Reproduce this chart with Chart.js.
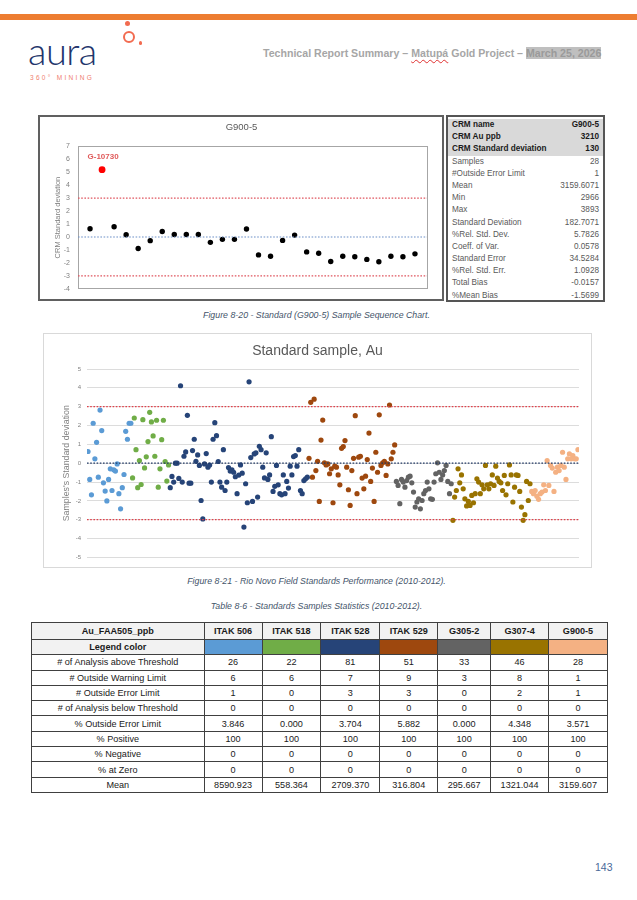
<!DOCTYPE html>
<html><head><meta charset="utf-8">
<script src="https://cdn.jsdelivr.net/npm/chart.js@4.4.1/dist/chart.umd.min.js"></script>
<style>
html,body{margin:0;padding:0;background:#fff;}
body{width:637px;height:900px;position:relative;overflow:hidden;font-family:"Liberation Sans",Arial,sans-serif;}
.abs{position:absolute;}
#bar{left:0;top:14px;width:637px;height:6px;background:#ED7D31;}
#logo{left:28px;top:31px;font:300 38px Lato,sans-serif;color:#22356B;line-height:38px;letter-spacing:-0.5px;}
#ring{left:123px;top:31px;width:12px;height:12px;border:2px solid #F26B50;border-radius:50%;box-sizing:border-box;}
#dot1{left:124.5px;top:21px;width:5px;height:5px;border-radius:50%;background:#F26B50;}
#dot2{left:138.5px;top:41px;width:3.5px;height:3.5px;border-radius:50%;background:#F26B50;}
#mining{left:30px;top:74px;font-size:6.5px;letter-spacing:2.3px;color:#F08070;}
#head{left:263px;top:47px;font-weight:bold;font-size:10.6px;color:#A6A6A6;white-space:nowrap;}
#head .wavy{text-decoration:underline wavy #E03030;text-decoration-thickness:1px;text-underline-offset:2px;}
#head .hl{background:#BFBFBF;color:#9a9a9a;}
#box1{left:38px;top:115px;width:406px;height:186px;border:2px solid #606060;box-sizing:border-box;}
#crm{left:446px;top:115px;width:159px;height:187px;border:2px solid #555;box-sizing:border-box;padding-top:2px;}
.crow{display:flex;justify-content:space-between;height:12.2px;line-height:12.2px;font-size:8.2px;color:#595959;padding:0 4px 0 4px;}
.crow.g{background:#D9D9D9;color:#1a1a1a;font-weight:bold;}
#box2{left:43px;top:333px;width:549px;height:235px;border:1px solid #D9D9D9;box-sizing:border-box;}
.cap{width:637px;left:-2px;text-align:center;font-style:italic;font-size:8.8px;color:#44546A;}
#stats{left:31px;top:622px;border-collapse:collapse;font-size:9.1px;color:#1a1a1a;}
#stats td{border:1px solid #404040;text-align:center;padding:0;height:14.3px;line-height:14px;}
#stats tr.h td{font-weight:bold;background:#F2F2F2;height:16px;}
#stats td.lg{font-weight:bold;background:#F2F2F2;}
#pg{left:595px;top:861px;font-size:10.5px;color:#4A6A9A;}
</style></head><body>
<div class="abs" id="bar"></div>
<div class="abs" id="logo">aura</div>
<div class="abs" id="ring"></div>
<div class="abs" id="dot1"></div>
<div class="abs" id="dot2"></div>
<div class="abs" id="mining">360° MINING</div>
<div class="abs" id="head">Technical Report Summary – <span class="wavy">Matupá</span> Gold Project – <span class="hl">March 25, 2026</span></div>

<div class="abs" id="box1"></div>
<div class="abs" style="left:39px;top:116px;width:405px;height:185px;"><canvas id="c1" width="405" height="185"></canvas></div>
<div class="abs" id="crm"></div>
<div class="abs cap" style="top:310px;">Figure 8-20 - Standard (G900-5) Sample Sequence Chart.</div>

<div class="abs" id="box2"></div>
<div class="abs" style="left:44px;top:334px;width:547px;height:233px;"><canvas id="c2" width="547" height="233"></canvas></div>
<div class="abs cap" style="top:576px;">Figure 8-21 - Rio Novo Field Standards Performance (2010-2012).</div>
<div class="abs cap" style="top:601px;">Table 8-6 - Standards Samples Statistics (2010-2012).</div>
<table class="abs" id="stats"></table>
<div class="abs" id="pg">143</div>

<script>
// ---------- Chart 1 data (G900-5 sample sequence) ----------
const g900Title = 'G900-5';
const g900Values = [0.64, 5.2, 0.79, 0.18, -0.89, -0.28, 0.43, 0.2, 0.2, 0.2, -0.41, -0.18, -0.18, 0.62,
  -1.38, -1.48, -0.26, 0.15, -1.15, -1.25, -1.89, -1.48, -1.53, -1.73, -1.91, -1.48, -1.53, -1.3];
const g900Outlier = 'G-10730';
const chart1Ticks = [7, 6, 5, 4, 3, 2, 1, 0, -1, -2, -3, -4];
const errorLimit = 3;

// ---------- CRM summary table ----------
const crmLabels = ['CRM name', 'CRM Au ppb', 'CRM Standard deviation', 'Samples', '#Outside Error Limit', 'Mean', 'Min', 'Max',
  'Standard Deviation', '%Rel. Std. Dev.', 'Coeff. of Var.', 'Standard Error', '%Rel. Std. Err.', 'Total Bias', '%Mean Bias'];
const crmValues = ['G900-5', '3210', '130', '28', '1', '3159.6071', '2966', '3893', '182.7071', '5.7826', '0.0578',
  '34.5284', '1.0928', '-0.0157', '-1.5699'];

// ---------- Chart 2 data (standard sample, Au) ----------
const seriesNames = ['ITAK 506', 'ITAK 518', 'ITAK 528', 'ITAK 529', 'G305-2', 'G307-4', 'G900-5'];
const seriesColors = ['#5B9BD5', '#70AD47', '#264478', '#9E480E', '#636363', '#997300', '#F4B183'];
const itak506 = [0.62, -0.86, -1.68, 2.12, 0.23, 1.11, -0.74, 2.82, 1.73, -1.04, -1.48, -2.0, -0.86, -0.3, -1.45,
  -0.35, -0.42, -0.04, -1.62, -2.42, -1.3, -0.6, 1.69, 1.27, 2.12, 2.12];
const itak518 = [-0.78, 2.40, 0.72, -1.3, 0.14, -1.13, 2.31, -0.25, 0.34, 1.15, 2.7, 2.19, 1.45, 0.37, 2.28, -1.27,
  -0.3, 1.25, 2.28, 0.09, -0.95, -0.09];
const itak528 = [-1.3, -0.7, -1.0, 0, 0, -0.81, 4.11, -1.0, 0.37, 0.6, 2.54, -1.06, -1.06, 0.67, 1.27, 0.1, 0.44,
  -0.12, -1.98, -2.96, -0.04, 0.51, -0.21, -0.1, -1.0, 1.27, 2.15, 1.46, 0.09, -1.0, -1.27, 0.72, -1.45, -1.0, -0.23,
  -0.42, -0.35, -0.48, -0.72, -1.62, -0.63, -0.09, -0.53, -3.39, -1.09, -2.1, 4.32, 0.3, -2.03, 0.49,
  0.55, -1.8, 0.9, 0.72, -0.21, -0.78, 0.55, -0.86, -0.62, 1.41, -1.5, -1.23, -0.12, -1.15, -1.62, -1.68, -0.62,
  -1.62, -0.97, -1.32, -0.16, -0.62, 0.35, 0.41, -0.16, 0.72, -1.45, -1.62, -0.92, -0.83, -0.74];
const itak529 = [0.26, 3.23, -0.74, 3.4, -0.39, 0.1, -2.03, 1.23, 2.29, 0.02, -0.09, -0.04, -0.56, -0.3, -2.1,
  -0.16, -0.21, -0.62, -1.15, 0.79, 0.88, 1.2, -0.21, -1.41, -2.24, -0.39, 0.26, 2.52, -1.62, 0.32, 0.37, -0.79,
  -1.36, -0.69, 0.19, 1.6, -0.97, -0.26, -2.03, 0.58, -0.48, 2.57, -0.12, 0.02, 0.1, -0.65, -0.04, 3.09, 0.23,
  0.58, 0.97];
const g3052 = [-0.97, -1.18, -2.15, -0.86, -1.0, -1.27, -0.92, -0.74, -0.69, -1.04, -1.53, -2.33, -2.06, -1.89,
  -2.42, -1.98, -1.62, -1.45, -1.0, -1.36, -1.89, -1.92, -1.0, -0.56, 0.02, -0.48, -0.86, -0.62, -0.39, -0.12,
  -0.97, -1.62, -1.09];
const g3074 = [-3.03, -1.8, -1.45, -0.3, -1.04, -0.62, -1.36, -1.89, -2.27, -2.03, -2.24, -1.71, -2.1, -1.62,
  -0.83, -1.0, -1.62, -1.15, -1.36, -0.12, -1.15, -1.36, -1.09, -0.62, -1.18, -0.16, -0.79, -0.97, -1.04, -1.45,
  -0.65, -1.68, -1.09, -0.09, -0.62, -2.06, -1.27, -0.62, -0.65, -1.5, -2.33, -3.03, -2.73, -0.97, -1.98, -1.09];
const g9005 = [-1.5, -1.62, -1.45, -1.75, -1.92, -1.62, -1.53, -1.15, -1.45, 0.14, -1.18, -0.12, -0.26, -1.5,
  -0.48, -0.21, -0.39, -0.12, 0.58, -0.21, -0.86, 0.23, 0.49, 0.23, 0.41, 0.23, 0.23, 0.72];
const seriesValues = [itak506, itak518, itak528, itak529, g3052, g3074, g9005];
const chart2Ticks = [5, 4, 3, 2, 1, 0, -1, -2, -3, -4, -5];

// ---------- Statistics table ----------
const statHeader = 'Au_FAA505_ppb';
const statRowLabels = ['# of Analysis above Threshold', '# Outside Warning Limit', '# Outside Error Limit',
  '# of Analysis below Threshold', '% Outside Error Limit', '% Positive', '% Negative', '% at Zero', 'Mean'];
const statAbove = ['26', '22', '81', '51', '33', '46', '28'];
const statWarning = ['6', '6', '7', '9', '3', '8', '1'];
const statError = ['1', '0', '3', '3', '0', '2', '1'];
const statBelow = ['0', '0', '0', '0', '0', '0', '0'];
const statPctError = ['3.846', '0.000', '3.704', '5.882', '0.000', '4.348', '3.571'];
const statPositive = ['100', '100', '100', '100', '100', '100', '100'];
const statNegative = ['0', '0', '0', '0', '0', '0', '0'];
const statZero = ['0', '0', '0', '0', '0', '0', '0'];
const statMean = ['8590.923', '558.364', '2709.370', '316.804', '295.667', '1321.044', '3159.607'];
const statRows = [statAbove, statWarning, statError, statBelow, statPctError, statPositive, statNegative, statZero, statMean];

// ---------- build HTML tables ----------
const crmEl = document.getElementById('crm');
crmLabels.forEach((l, i) => {
  const r = document.createElement('div');
  r.className = 'crow' + (i < 3 ? ' g' : '');
  r.innerHTML = '<span>' + l + '</span><span>' + crmValues[i] + '</span>';
  crmEl.appendChild(r);
});
const colW = [173, 58, 59, 59, 58, 53, 58, 59];
const st = document.getElementById('stats');
let html = '<colgroup>' + colW.map(w => '<col style="width:' + w + 'px">').join('') + '</colgroup>';
html += '<tr class="h"><td>' + statHeader + '</td>' + seriesNames.map(n => '<td>' + n + '</td>').join('') + '</tr>';
html += '<tr><td class="lg">Legend color</td>' + seriesColors.map(c => '<td style="background:' + c + '"></td>').join('') + '</tr>';
statRowLabels.forEach((l, i) => {
  html += '<tr><td>' + l + '</td>' + statRows[i].map(v => '<td>' + v + '</td>').join('') + '</tr>';
});
st.innerHTML = html;
st.style.width = colW.reduce((a, b) => a + b, 0) + 'px';

// ---------- charts ----------
const FONT = '"Liberation Sans", Arial, sans-serif';
Chart.defaults.font.family = FONT;

const frame = {
  id: 'frame',
  beforeDatasetsDraw(chart) {
    const a = chart.chartArea, c = chart.ctx;
    c.save(); c.strokeStyle = '#A6A6A6'; c.lineWidth = 1;
    c.strokeRect(Math.round(a.left) + 0.5, Math.round(a.top) + 0.5, Math.round(a.right - a.left), Math.round(a.bottom - a.top));
    c.restore();
  }
};
const outlierLabel = {
  id: 'outlierLabel',
  afterDatasetsDraw(chart) {
    const meta = chart.getDatasetMeta(3);
    const c = chart.ctx;
    g900Values.forEach((v, i) => {
      if (Math.abs(v) > errorLimit) {
        const p = meta.data[i];
        c.save(); c.fillStyle = '#E05A5A'; c.font = 'bold 8px ' + FONT;
        c.textAlign = 'center'; c.textBaseline = 'middle';
        c.fillText(g900Outlier, p.x + 1, p.y - 13);
        c.restore();
      }
    });
  }
};

function hline(y, color, xmin, xmax) {
  return { type: 'line', data: [{ x: xmin, y: y }, { x: xmax, y: y }], borderColor: color, borderWidth: 1.2,
    borderDash: [1.6, 1.6], pointRadius: 0, fill: false };
}
function spacer(w) {
  return { position: 'right', display: true, ticks: { display: false }, grid: { display: false, drawTicks: false },
    border: { display: false }, title: { display: false }, afterFit: s => { s.width = w; } };
}

new Chart(document.getElementById('c1'), {
  type: 'scatter',
  data: {
    datasets: [
      hline(errorLimit, '#E0555F', 0, 29),
      hline(-errorLimit, '#E0555F', 0, 29),
      hline(0, '#6C8FC7', 0, 29),
      { label: g900Title, data: g900Values.map((v, i) => ({ x: i + 1, y: v })),
        pointRadius: g900Values.map(v => Math.abs(v) > errorLimit ? 3.4 : 2.7),
        backgroundColor: g900Values.map(v => Math.abs(v) > errorLimit ? '#FF0000' : '#000000'),
        borderWidth: 0 }
    ]
  },
  options: {
    responsive: false, animation: false, events: [],
    layout: { padding: { left: 0, right: 0, top: 0, bottom: 10 } },
    plugins: {
      legend: { display: false }, tooltip: { enabled: false },
      title: { display: true, text: g900Title, color: '#595959', font: { size: 9.5, weight: 'normal' }, padding: { top: 6, bottom: 13 } }
    },
    scales: {
      x: { type: 'linear', min: 0, max: 29, display: false },
      y: { min: -4, max: 7, afterFit: s => { s.width = 39; },
        afterBuildTicks: s => { s.ticks = chart1Ticks.map(v => ({ value: v })); },
        ticks: { color: '#808080', font: { size: 7 }, padding: 8, autoSkip: false },
        grid: { display: false, drawTicks: false }, border: { display: false },
        title: { display: true, text: 'CRM Standard deviation', color: '#808080', font: { size: 7.5 }, padding: { top: 14, bottom: 0 } } },
      yRight: spacer(17)
    }
  },
  plugins: [frame, outlierLabel]
});

let offset = 0;
const pointSets = seriesValues.map((vals, k) => {
  const d = vals.map((v, i) => ({ x: offset + i + 1, y: v }));
  offset += vals.length;
  return { label: seriesNames[k], data: d, backgroundColor: seriesColors[k], pointRadius: 2.6, borderWidth: 0 };
});
const total = offset;

new Chart(document.getElementById('c2'), {
  type: 'scatter',
  data: {
    datasets: [
      hline(errorLimit, '#E0404A', 0.4, total + 0.6),
      hline(-errorLimit, '#E0404A', 0.4, total + 0.6),
      hline(0, '#203864', 0.4, total + 0.6),
      ...pointSets
    ]
  },
  options: {
    responsive: false, animation: false, events: [],
    layout: { padding: { left: 0, right: 0, top: 0, bottom: 8 } },
    plugins: {
      legend: { display: false }, tooltip: { enabled: false },
      title: { display: true, text: 'Standard sample, Au', color: '#595959', font: { size: 14, weight: 'normal' }, padding: { top: 8.3, bottom: 9.9 } }
    },
    scales: {
      x: { type: 'linear', min: 0.4, max: total + 0.6, display: false },
      y: { min: -5, max: 5, afterFit: s => { s.width = 43; },
        afterBuildTicks: s => { s.ticks = chart2Ticks.map(v => ({ value: v })); },
        ticks: { color: '#808080', font: { size: 6 }, padding: 6, autoSkip: false },
        grid: { color: '#DCDCDC', lineWidth: 1, drawTicks: false }, border: { display: false },
        title: { display: true, text: "Samples's Standard deviation", color: '#7F7F7F', font: { size: 8.8 }, padding: { top: 17.5, bottom: 0 } } },
      yRight: spacer(12)
    }
  }
});
</script>
</body></html>
